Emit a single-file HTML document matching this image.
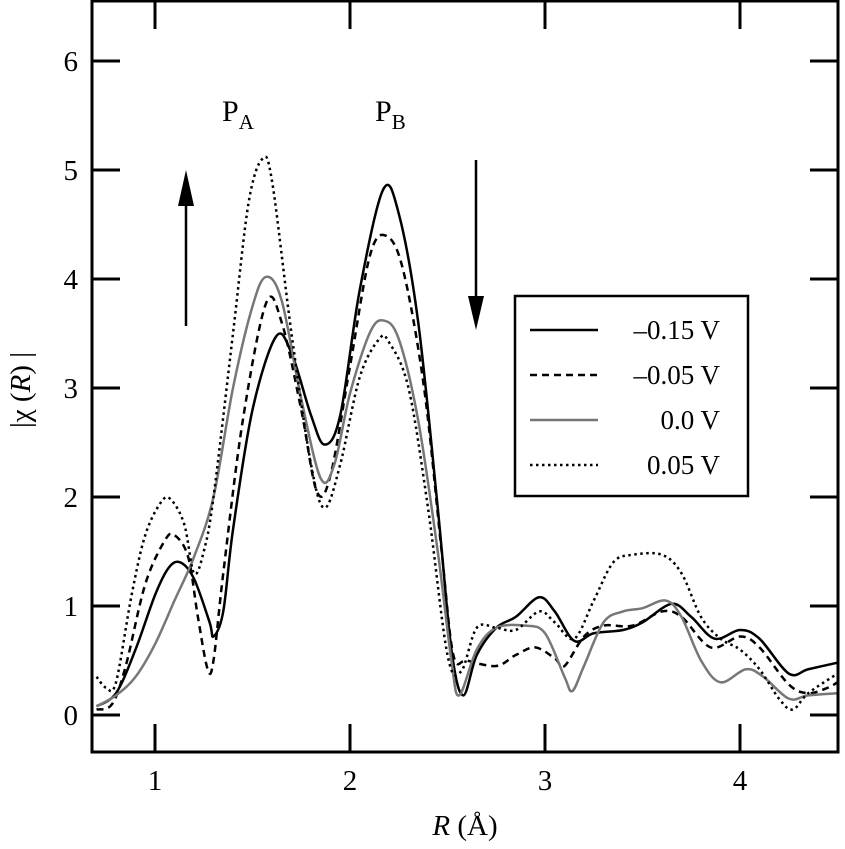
<!DOCTYPE html>
<html><head><meta charset="utf-8"><style>
body{margin:0;background:#fff}
svg text{font-family:"Liberation Serif",serif;fill:#000}
</style></head><body>
<svg width="845" height="844" viewBox="0 0 845 844" id="svg">
<g id="plot"></g>
</svg>
<script>
const rS=[0.7,0.8,0.9,1.0,1.07,1.13,1.2,1.28,1.3,1.35,1.4,1.5,1.62,1.7,1.8,1.87,1.95,2.05,2.17,2.25,2.35,2.45,2.52,2.58,2.65,2.75,2.85,2.97,3.05,3.15,3.25,3.4,3.5,3.65,3.75,3.87,4.0,4.1,4.25,4.35,4.5];
const vS=[0.08,0.2,0.6,1.1,1.35,1.4,1.25,0.85,0.72,0.95,1.7,2.8,3.47,3.32,2.75,2.48,2.75,3.9,4.82,4.6,3.6,1.9,0.6,0.18,0.55,0.8,0.9,1.08,0.95,0.68,0.75,0.78,0.85,1.02,0.9,0.7,0.78,0.7,0.38,0.42,0.48];
const rD=[0.7,0.78,0.85,0.95,1.05,1.1,1.17,1.22,1.27,1.3,1.35,1.45,1.57,1.65,1.75,1.83,1.9,2.0,2.1,2.18,2.27,2.38,2.47,2.53,2.6,2.75,2.85,2.95,3.05,3.1,3.2,3.3,3.45,3.6,3.7,3.85,4.0,4.1,4.25,4.35,4.45,4.5];
const vD=[0.05,0.1,0.45,1.2,1.6,1.65,1.45,0.9,0.42,0.5,1.3,2.7,3.78,3.6,2.8,2.05,2.2,3.2,4.2,4.4,4.1,3.0,1.5,0.55,0.5,0.45,0.55,0.62,0.52,0.45,0.72,0.82,0.82,0.95,0.9,0.62,0.72,0.62,0.28,0.2,0.25,0.3];
const rG=[0.7,0.8,0.9,1.0,1.1,1.2,1.3,1.4,1.5,1.57,1.65,1.75,1.85,1.92,2.0,2.1,2.17,2.25,2.35,2.45,2.52,2.56,2.65,2.75,2.9,3.0,3.1,3.14,3.2,3.3,3.4,3.5,3.62,3.7,3.8,3.9,4.03,4.12,4.25,4.35,4.5];
const vG=[0.08,0.18,0.35,0.65,1.05,1.45,2.0,3.0,3.75,4.02,3.8,2.9,2.17,2.3,2.95,3.5,3.62,3.45,2.7,1.5,0.5,0.18,0.6,0.8,0.82,0.75,0.35,0.22,0.45,0.85,0.95,0.98,1.05,0.9,0.5,0.3,0.42,0.35,0.15,0.18,0.2];
const rT=[0.7,0.75,0.8,0.88,0.95,1.03,1.08,1.15,1.2,1.25,1.3,1.4,1.48,1.55,1.6,1.7,1.8,1.87,1.95,2.05,2.15,2.2,2.3,2.4,2.5,2.57,2.65,2.75,2.85,2.97,3.05,3.15,3.25,3.35,3.45,3.6,3.7,3.8,3.9,4.0,4.1,4.2,4.27,4.35,4.5];
const vT=[0.35,0.25,0.3,1.1,1.65,1.95,1.98,1.75,1.3,1.5,2.0,3.5,4.7,5.1,4.9,3.5,2.3,1.9,2.3,3.1,3.45,3.42,3.0,1.9,0.55,0.4,0.8,0.8,0.78,0.95,0.85,0.7,1.05,1.4,1.47,1.47,1.3,0.9,0.7,0.6,0.42,0.15,0.05,0.2,0.38];
const xTicks=[1,2,3,4];
const yTicks=[0,1,2,3,4,5,6];
const legendLabels=["\u20130.15 V","\u20130.05 V","0.0 V","0.05 V"];

const L=92,R=838,T=1,B=752;
const X=v=>155+(v-1)*195;
const Y=v=>715-v*109;
const g=document.getElementById('plot');
const NS='http://www.w3.org/2000/svg';
function mk(tag,at){const e=document.createElementNS(NS,tag);for(const k in at)e.setAttribute(k,at[k]);g.appendChild(e);return e;}
function path(rs,vs){const p=rs.map((r,i)=>[X(r),Y(vs[i])]);let d='M'+p[0][0]+','+p[0][1];
for(let i=0;i<p.length-1;i++){const p0=p[Math.max(0,i-1)],p1=p[i],p2=p[i+1],p3=p[Math.min(p.length-1,i+2)];
const c1=[p1[0]+(p2[0]-p0[0])/6,p1[1]+(p2[1]-p0[1])/6],c2=[p2[0]-(p3[0]-p1[0])/6,p2[1]-(p3[1]-p1[1])/6];
d+=`C${c1[0]},${c1[1]} ${c2[0]},${c2[1]} ${p2[0]},${p2[1]}`;}return d;}
const styles=[{s:'#000',w:2.5,da:''},{s:'#000',w:2.5,da:'7,5'},{s:'#777',w:2.5,da:''},{s:'#000',w:2.5,da:'2.5,3.5'}];
const series=[[rS,vS],[rD,vD],[rG,vG],[rT,vT]];
const names=['line-minus-0-15v','line-minus-0-05v','line-0-0v','line-0-05v'];
const cp=mk('clipPath',{id:'cp'});const cr=document.createElementNS(NS,'rect');cr.setAttribute('x',L);cr.setAttribute('y',T);cr.setAttribute('width',R-L);cr.setAttribute('height',B-T);cp.appendChild(cr);
series.forEach((s,i)=>{const e=mk('path',{d:path(s[0],s[1]),fill:'none',stroke:styles[i].s,'stroke-width':styles[i].w,'stroke-dasharray':styles[i].da,'clip-path':'url(#cp)'});

});
const fr=mk('rect',{x:L,y:T,width:R-L,height:B-T,fill:'none',stroke:'#000','stroke-width':3});


xTicks.forEach(t=>{mk('line',{x1:X(t),x2:X(t),y1:B,y2:B-28,stroke:'#000','stroke-width':3});mk('line',{x1:X(t),x2:X(t),y1:T,y2:T+28,stroke:'#000','stroke-width':3});
const tx=mk('text',{x:X(t),y:790,'font-size':29,'text-anchor':'middle'});tx.textContent=t;

});
yTicks.forEach(t=>{mk('line',{x1:L,x2:L+28,y1:Y(t),y2:Y(t),stroke:'#000','stroke-width':3});mk('line',{x1:R,x2:R-28,y1:Y(t),y2:Y(t),stroke:'#000','stroke-width':3});
const tx=mk('text',{x:78,y:Y(t)+10,'font-size':29,'text-anchor':'end'});tx.textContent=t;

});
const lb=mk('rect',{x:515,y:296,width:233,height:200,fill:'#fff',stroke:'#000','stroke-width':2.5});


legendLabels.forEach((lab,i)=>{const y=330+i*45;
const ln=mk('line',{x1:530,x2:598,y1:y,y2:y,stroke:styles[i].s,'stroke-width':2.5,'stroke-dasharray':styles[i].da});


const tx=mk('text',{x:720,y:y+9,'font-size':27,'text-anchor':'end'});tx.textContent=lab;

});
mk('line',{x1:186,x2:186,y1:326,y2:195,stroke:'#000','stroke-width':2.5});
const a1=mk('polygon',{points:'186,170 178,206 194,206',fill:'#000'});


mk('line',{x1:476,x2:476,y1:160,y2:305,stroke:'#000','stroke-width':2.5});
const a2=mk('polygon',{points:'476,330 468,296 484,296',fill:'#000'});


function lab(x,sub,name){const t=mk('text',{x:x,y:121,'font-size':30});t.innerHTML='P<tspan font-size="21" dy="8">'+sub+'</tspan>';

}
lab(222,'A','peak-a-label');lab(375,'B','peak-b-label');
const xt=mk('text',{x:465,y:835,'font-size':29,'text-anchor':'middle'});xt.innerHTML='<tspan font-style="italic">R</tspan> (Å)';


const yt=mk('text',{x:0,y:0,'font-size':29,'text-anchor':'middle',transform:'translate(30,390) rotate(-90)'});yt.innerHTML='|χ (<tspan font-style="italic">R</tspan>) |';


</script>
</body></html>
